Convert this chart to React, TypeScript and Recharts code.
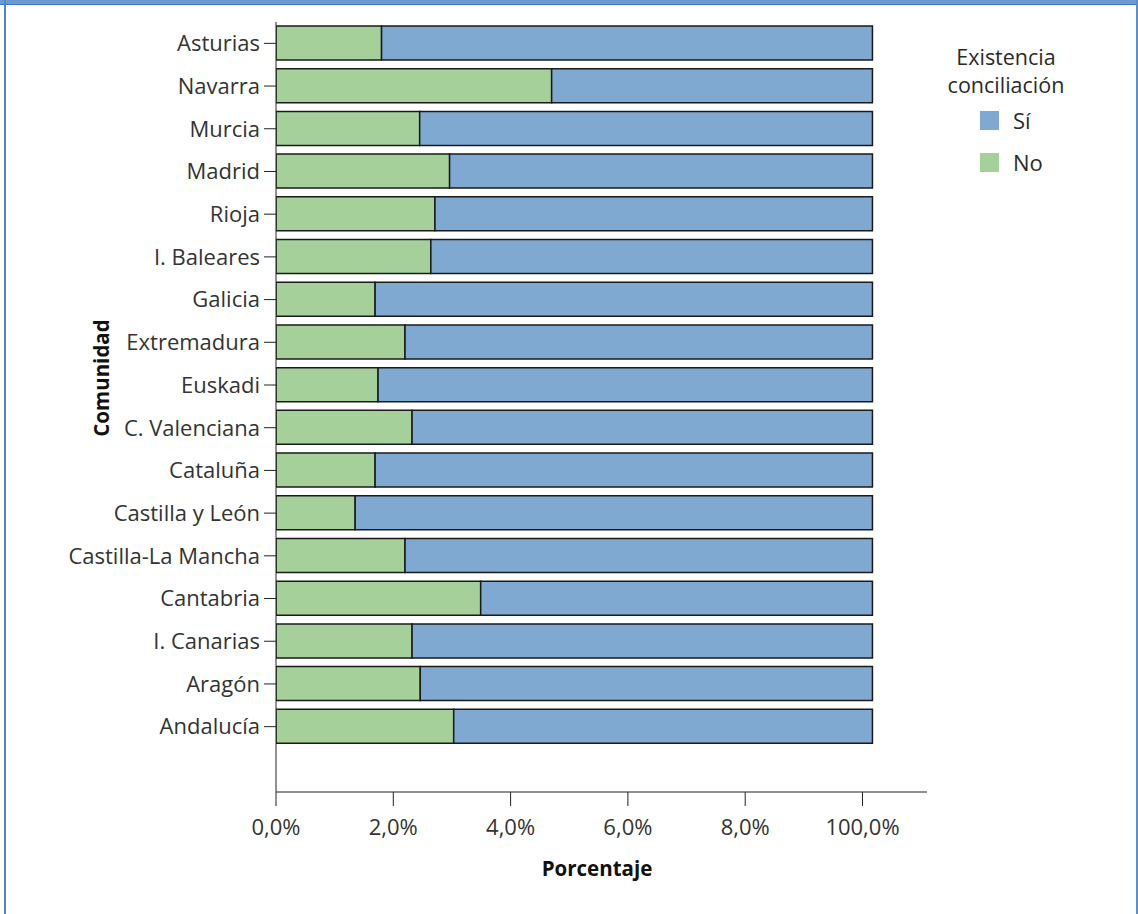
import { BarChart, Bar, XAxis, YAxis } from 'recharts';

// top to bottom, as in the source chart
const comunidades = [
  'Asturias', 'Navarra', 'Murcia', 'Madrid', 'Rioja', 'I. Baleares', 'Galicia',
  'Extremadura', 'Euskadi', 'C. Valenciana', 'Cataluña', 'Castilla y León',
  'Castilla-La Mancha', 'Cantabria', 'I. Canarias', 'Aragón', 'Andalucía',
];
const noPct = [1.8, 4.7, 2.45, 2.96, 2.71, 2.64, 1.69, 2.2, 1.74, 2.32, 1.69, 1.35, 2.2, 3.49, 2.32, 2.46, 3.03];
const siPct = [98.2, 95.3, 97.55, 97.04, 97.29, 97.36, 98.31, 97.8, 98.26, 97.68, 98.31, 98.65, 97.8, 96.51, 97.68, 97.54, 96.97];

const tickValues = [0, 2, 4, 6, 8, 10];
const tickLabels = ['0,0%', '2,0%', '4,0%', '6,0%', '8,0%', '100,0%'];

const GREEN = '#a6d09a';
const BLUE = '#80a9d2';
const FONT = '"Open Sans", sans-serif';

// broken axis: 0-8% is linear, everything above 8% is squeezed into the last step
const BREAK = 8;
const FULL = 10.17;
const toAxis = (p: number) => (p <= BREAK ? p : BREAK + ((p - BREAK) * (FULL - BREAK)) / (100 - BREAK));

const data = comunidades.map((name, i) => ({
  name,
  no: toAxis(noPct[i]),
  si: toAxis(noPct[i] + siPct[i]) - toAxis(noPct[i]),
}));

const legendItems = [
  { label: 'Sí', color: BLUE },
  { label: 'No', color: GREEN },
];

function LegendBox() {
  return (
    <div style={{ position: 'absolute', left: 926, top: 42, width: 160, fontFamily: FONT, fontSize: 21.5, color: '#2a2a2a' }}>
      <div style={{ textAlign: 'center', lineHeight: '30px' }}>Existencia</div>
      <div style={{ textAlign: 'center', lineHeight: '30px', marginTop: -2 }}>conciliación</div>
      {legendItems.map((it, i) => (
        <div key={it.label} style={{ display: 'flex', alignItems: 'center', marginTop: i === 0 ? 10 : 22, marginLeft: 54, height: 20 }}>
          <span style={{ width: 19, height: 19, background: it.color, display: 'inline-block' }} />
          <span style={{ marginLeft: 14, fontSize: 22 }}>{it.label}</span>
        </div>
      ))}
    </div>
  );
}

export default function App() {
  return (
    <div style={{ position: 'absolute', left: 0, top: 0, width: 1138, height: 914, background: '#fff', overflow: 'hidden' }}>
      <div style={{ position: 'absolute', left: 0, top: 0, width: 1138, height: 5, background: '#6b9bd0', borderBottom: '1px solid #3f78bd', boxSizing: 'border-box' }} />
      <div style={{ position: 'absolute', left: 4, top: 0, width: 2, height: 914, background: '#4a86c8' }} />
      <div style={{ position: 'absolute', left: 1136, top: 0, width: 2, height: 914, background: '#5b8fc9' }} />

      <BarChart
        width={1138}
        height={914}
        data={data}
        layout="vertical"
        margin={{ top: 22, right: 211, bottom: 92, left: 0 }}
        style={{ position: 'absolute', left: 0, top: 0 }}
      >
        <XAxis
          type="number"
          domain={[0, 11.1]}
          ticks={tickValues}
          tickFormatter={(v: number) => tickLabels[tickValues.indexOf(v)]}
          allowDataOverflow
          height={30}
          tickSize={14}
          tickMargin={13}
          stroke="#222"
          tick={{ fill: '#333', fontSize: 22, fontFamily: FONT }}
        />
        <YAxis
          type="category"
          dataKey="name"
          width={276}
          tickSize={12}
          tickMargin={4}
          stroke="#222"
          padding={{ top: 0, bottom: 44 }}
          interval={0}
          tick={{ fill: '#333', fontSize: 22, fontFamily: FONT }}
        />
        <Bar dataKey="no" name="No" stackId="a" fill={GREEN} stroke="#1a1a1a" strokeWidth={1.5} barSize={34} isAnimationActive={false} />
        <Bar dataKey="si" name="Sí" stackId="a" fill={BLUE} stroke="#1a1a1a" strokeWidth={1.5} barSize={34} isAnimationActive={false} />
      </BarChart>

      <LegendBox />

      <div
        style={{
          position: 'absolute', left: 101, top: 378, transform: 'translate(-50%, -50%) rotate(-90deg)',
          fontFamily: FONT, fontWeight: 700, fontSize: 20.5, color: '#111', whiteSpace: 'nowrap',
        }}
      >
        Comunidad
      </div>
      <div
        style={{
          position: 'absolute', left: 597, top: 868, transform: 'translate(-50%, -50%)',
          fontFamily: FONT, fontWeight: 700, fontSize: 20.5, color: '#111', whiteSpace: 'nowrap',
        }}
      >
        Porcentaje
      </div>
    </div>
  );
}
